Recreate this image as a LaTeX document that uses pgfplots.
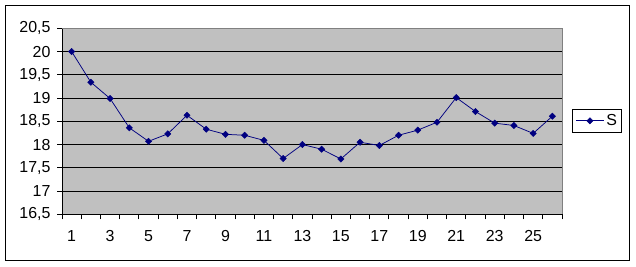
\documentclass[border=0pt]{standalone}
\usepackage{pgfplots}
\pgfplotsset{compat=1.18}
\usepackage{fontspec}
\setmainfont{Liberation Sans}
\definecolor{plotgray}{RGB}{192,192,192}
\definecolor{bordergray}{RGB}{128,128,128}
\definecolor{navyline}{RGB}{0,0,128}
\begin{document}
\begin{tikzpicture}[x=1bp,y=1bp]
\useasboundingbox (0,0) rectangle (636,266);
\draw[line width=1bp] (5.7,5.5) rectangle (629.3,260.3);
\begin{axis}[
  at={(62bp,51.7bp)}, anchor=south west,
  scale only axis, width=500bp, height=186bp,
  xmin=0.5, xmax=26.5, ymin=16.5, ymax=20.5,
  axis background/.style={fill=plotgray},
  axis x line*=bottom, axis y line*=left,
  axis line style={black, line width=1bp},
  tick align=outside, major tick length=5bp,
  tick style={black, line width=1bp},
  xtick={0.5,1.5,...,26.5}, xticklabels={},
  extra x ticks={1,3,...,25},
  extra x tick style={major tick length=0pt, xticklabel style={yshift=-13bp}},
  ytick={16.5,17,...,20.5},
  ymajorgrids, major grid style={black, line width=1bp},
  /pgf/number format/.cd, use comma, fixed, assume math mode=true, /pgfplots/.cd,
  ticklabel style={font=\fontsize{16}{19}\selectfont},
  yticklabel style={xshift=-3bp},
  clip=false,
  after end axis/.code={
    \draw[bordergray, line width=1bp] (rel axis cs:0,1) -- (rel axis cs:1,1) -- (rel axis cs:1,0);
  },
  legend style={at={(1.02,0.566)}, anchor=north west, draw=black, line width=1bp,
    font=\fontsize{16}{19}\selectfont, inner xsep=3bp, inner ysep=2.5bp, row sep=0pt,
    nodes={inner xsep=2bp, inner ysep=2.5bp}},
  legend cell align=left,
  legend image code/.code={
    \draw[mark repeat=2,mark phase=2] plot coordinates {(0bp,0bp)(14bp,0bp)(28bp,0bp)};
  },
]
\addplot[navyline, line width=0.75bp, mark=square*, mark size=2.2bp,
  mark options={rotate=45, fill=navyline, draw=navyline, line width=0.5bp}]
coordinates {
(1,20.0) (2,19.34) (3,18.99) (4,18.36) (5,18.07) (6,18.23) (7,18.63)
(8,18.33) (9,18.22) (10,18.20) (11,18.09) (12,17.70) (13,18.00) (14,17.90)
(15,17.69) (16,18.05) (17,17.98) (18,18.20) (19,18.31) (20,18.48) (21,19.01)
(22,18.71) (23,18.46) (24,18.41) (25,18.24) (26,18.61)
};
\addlegendentry{S\hspace{6bp}}
\end{axis}
\end{tikzpicture}
\end{document}
